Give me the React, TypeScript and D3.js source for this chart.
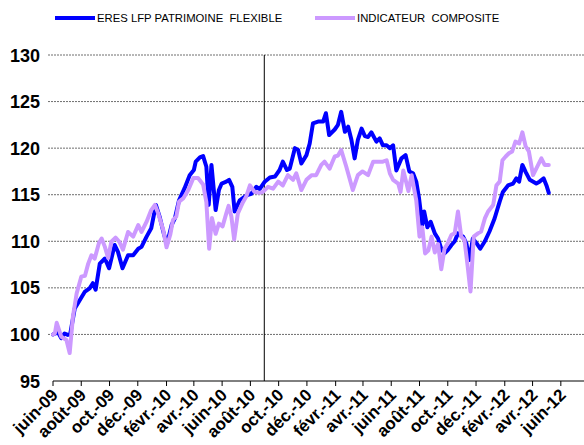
import React from "react";
import * as d3 from "d3";

const blueDates = [
  "2009-06-01","2009-06-05","2009-06-12","2009-06-19","2009-06-26","2009-07-03","2009-07-08","2009-07-18","2009-07-29","2009-08-09",
  "2009-08-19","2009-08-26","2009-09-01","2009-09-10","2009-09-21","2009-09-30","2009-10-12","2009-10-19","2009-10-29","2009-11-10",
  "2009-11-21","2009-12-02","2009-12-09","2009-12-20","2009-12-30","2010-01-09","2010-01-17","2010-01-26","2010-02-02","2010-02-12",
  "2010-02-19","2010-02-28","2010-03-12","2010-03-23","2010-04-01","2010-04-05","2010-04-14","2010-04-21","2010-04-28","2010-05-03",
  "2010-05-09","2010-05-14","2010-05-18","2010-05-25","2010-05-31","2010-06-10","2010-06-16","2010-06-23","2010-06-28","2010-07-09",
  "2010-07-20","2010-07-27","2010-08-03","2010-08-14","2010-08-21","2010-09-01","2010-09-12","2010-09-23","2010-10-03","2010-10-10",
  "2010-10-19","2010-10-25","2010-11-05","2010-11-12","2010-11-19","2010-11-30","2010-12-07","2010-12-14","2010-12-25","2011-01-05",
  "2011-01-11","2011-01-18","2011-01-30","2011-02-06","2011-02-13","2011-02-21","2011-02-28","2011-03-07","2011-03-14","2011-03-21",
  "2011-03-29","2011-04-05","2011-04-12","2011-04-19","2011-04-30","2011-05-07","2011-05-14","2011-05-22","2011-05-29","2011-06-05",
  "2011-06-12","2011-06-23","2011-07-02","2011-07-10","2011-07-18","2011-07-25","2011-07-31","2011-08-07","2011-08-11","2011-08-18",
  "2011-08-25","2011-09-03","2011-09-10","2011-09-17","2011-09-24","2011-10-01","2011-10-09","2011-10-16","2011-10-23","2011-11-03",
  "2011-11-10","2011-11-17","2011-11-24","2011-12-02","2011-12-10","2011-12-20","2011-12-30","2012-01-10","2012-01-21","2012-01-28",
  "2012-02-08","2012-02-19","2012-02-26","2012-03-03","2012-03-10","2012-03-17","2012-03-26","2012-04-09","2012-04-16","2012-04-25",
  "2012-05-01","2012-05-06"
];
const blueValues = [
  100.0,100.1,100.2,99.6,100.1,99.95,100.0,102.8,103.7,104.6,
  104.95,105.5,104.8,107.6,108.15,107.1,109.6,108.9,107.1,108.5,
  108.5,109.2,109.4,110.5,111.4,113.9,112.65,110.85,109.7,111.75,
  112.45,114.4,115.7,117.1,117.65,118.55,119.0,119.15,118.0,113.9,
  118.2,115.5,113.35,115.5,116.2,116.4,116.6,115.85,113.2,114.4,
  114.8,115.0,115.1,115.85,115.6,116.4,116.85,116.95,117.65,118.55,
  117.65,117.8,120.0,119.8,118.35,119.25,120.5,122.65,122.85,122.85,
  123.75,121.4,122.0,122.5,123.9,121.75,122.3,120.9,118.9,120.9,
  122.1,121.3,121.2,121.7,120.7,121.05,120.3,120.3,120.0,120.3,
  117.6,118.9,119.25,117.5,117.3,116.4,114.6,111.75,113.2,111.5,
  112.1,110.85,110.3,109.2,108.7,109.05,109.6,110.0,110.85,110.5,
  109.8,108.0,110.3,109.8,109.2,110.0,111.05,112.45,114.25,115.3,
  116.0,116.2,116.75,116.4,118.2,117.45,116.6,116.2,116.4,116.75,
  116.0,115.2
];

const purpleDates = [
  "2009-06-01","2009-06-05","2009-06-09","2009-06-19","2009-06-30","2009-07-07","2009-07-14","2009-07-22","2009-08-01","2009-08-09",
  "2009-08-16","2009-08-23","2009-08-30","2009-09-08","2009-09-14","2009-09-21","2009-09-28","2009-10-05","2009-10-14","2009-10-22",
  "2009-10-30","2009-11-10","2009-11-21","2009-12-02","2009-12-09","2009-12-20","2009-12-30","2010-01-07","2010-01-14","2010-01-25",
  "2010-02-01","2010-02-09","2010-02-15","2010-02-22","2010-02-28","2010-03-09","2010-03-20","2010-03-31","2010-04-10","2010-04-21",
  "2010-04-28","2010-05-04","2010-05-10","2010-05-18","2010-05-25","2010-06-02","2010-06-10","2010-06-15","2010-06-21","2010-06-27",
  "2010-07-05","2010-07-16","2010-07-23","2010-07-31","2010-08-10","2010-08-21","2010-08-28","2010-09-08","2010-09-19","2010-09-30",
  "2010-10-10","2010-10-21","2010-11-01","2010-11-08","2010-11-19","2010-11-30","2010-12-11","2010-12-21","2011-01-01","2011-01-08",
  "2011-01-19","2011-01-30","2011-02-06","2011-02-13","2011-02-24","2011-03-10","2011-03-21","2011-03-31","2011-04-12","2011-04-23",
  "2011-05-03","2011-05-14","2011-05-22","2011-05-29","2011-06-05","2011-06-16","2011-06-21","2011-06-27","2011-07-08","2011-07-15",
  "2011-07-25","2011-08-01","2011-08-07","2011-08-13","2011-08-20","2011-08-27","2011-09-03","2011-09-10","2011-09-17","2011-09-24",
  "2011-10-01","2011-10-09","2011-10-16","2011-10-23","2011-10-30","2011-11-06","2011-11-13","2011-11-19","2011-11-26","2011-12-05",
  "2011-12-12","2011-12-20","2011-12-27","2012-01-07","2012-01-14","2012-01-21","2012-01-27","2012-02-03","2012-02-10","2012-02-17",
  "2012-02-24","2012-03-03","2012-03-10","2012-03-17","2012-03-24","2012-04-02","2012-04-09","2012-04-20","2012-04-27","2012-05-06"
];
const purpleValues = [
  100.0,100.1,101.25,99.75,99.4,98.0,101.9,104.4,106.2,106.3,
  107.6,108.5,108.15,109.8,110.3,109.4,108.2,109.95,110.4,109.95,
  109.1,111.0,110.5,111.75,111.0,112.1,113.35,113.9,113.0,111.2,
  109.35,110.7,112.3,112.65,114.25,114.6,115.5,116.8,116.8,116.1,
  114.2,109.2,112.5,110.8,111.9,111.6,113.0,113.8,112.65,110.2,
  113.0,114.2,114.8,116.0,115.3,115.2,115.3,115.85,115.65,116.4,
  116.0,117.1,116.6,117.3,115.5,116.6,117.1,117.1,118.2,118.55,
  117.8,119.1,119.2,119.8,118.0,115.5,117.1,117.5,117.1,118.55,
  118.55,118.55,118.7,117.3,116.6,116.2,115.3,117.6,115.4,117.1,
  114.4,110.5,111.5,108.7,109.0,110.5,108.8,109.7,107.0,109.2,
  109.8,110.7,110.85,113.2,110.5,110.15,107.3,104.6,110.5,110.85,
  111.05,112.45,113.2,113.9,116.0,116.4,118.7,119.1,119.45,119.65,
  120.7,120.5,121.7,120.2,119.65,117.1,117.8,118.9,118.2,118.2
];

const seriesNames = ["ERES LFP PATRIMOINE  FLEXIBLE", "INDICATEUR  COMPOSITE"];
const seriesColors = ["#0000FF", "#CC99FF"];
const yTicks = [95, 100, 105, 110, 115, 120, 125, 130];
const tickLabels = [
  "juin-09","août-09","oct.-09","déc.-09","févr.-10","avr.-10","juin-10","août-10","oct.-10","déc.-10",
  "févr.-11","avr.-11","juin-11","août-11","oct.-11","déc.-11","févr.-12","avr.-12","juin-12"
];
const markerDate = "2010-08-31";

const W = 584;
const H = 445;
const left = 53;
const right = 584;
const top = 55;
const bottom = 381;

export default function App() {
  const parse = d3.utcParse("%Y-%m-%d");
  const x = d3
    .scaleUtc()
    .domain([parse("2009-06-01")!, parse("2012-07-21")!])
    .range([left, right]);
  const y = d3.scaleLinear().domain([95, 130]).range([bottom, top]);
  const tickDates = d3.utcMonth.range(parse("2009-06-01")!, parse("2012-06-02")!, 2);

  const line = d3
    .line<[Date, number]>()
    .x((d) => x(d[0]))
    .y((d) => y(d[1]))
    .curve(d3.curveLinear);

  const blue: [Date, number][] = blueDates.map((d, i) => [parse(d)!, blueValues[i]]);
  const purple: [Date, number][] = purpleDates.map((d, i) => [parse(d)!, purpleValues[i]]);
  const mx = x(parse(markerDate)!);

  return (
    <svg width={W} height={H} style={{ position: "absolute", left: 0, top: 0 }}
      fontFamily="'Liberation Sans', Arial, sans-serif">
      <rect x={0} y={0} width={W} height={H} fill="#fff" />
      {/* grid */}
      {yTicks.filter((t) => t > 95).map((t) => (
        <line key={t} x1={48} x2={right} y1={y(t)} y2={y(t)}
          stroke="#6e6e6e" strokeWidth={1} strokeDasharray="2 1" />
      ))}
      {/* y labels */}
      {yTicks.map((t) => (
        <text key={t} x={40} y={y(t) + 6.5} textAnchor="end" fontWeight="bold" fontSize={18}
          fill="#000">{t}</text>
      ))}
      {/* marker vertical */}
      <line x1={mx} x2={mx} y1={top} y2={bottom} stroke="#000" strokeWidth={1} />
      {/* x axis */}
      <line x1={left} x2={right} y1={bottom} y2={bottom} stroke="#000" strokeWidth={1} />
      {tickDates.map((d, i) => (
        <g key={i}>
          <line x1={x(d)} x2={x(d)} y1={bottom} y2={bottom + 5} stroke="#000" strokeWidth={1} />
          <text transform={`translate(${x(d) + 6},${bottom + 15}) rotate(-45)`} textAnchor="end"
            fontWeight="bold" fontSize={17} fill="#000">{tickLabels[i]}</text>
        </g>
      ))}
      {/* series */}
      <path d={line(blue) || ""} fill="none" stroke={seriesColors[0]} strokeWidth={4}
        strokeLinejoin="round" strokeLinecap="round" />
      <path d={line(purple) || ""} fill="none" stroke={seriesColors[1]} strokeWidth={4}
        strokeLinejoin="round" strokeLinecap="round" />
      {/* legend */}
      <line x1={55} x2={95} y1={18} y2={18} stroke={seriesColors[0]} strokeWidth={4} />
      <text x={97} y={22} fontSize={11.3} fill="#000" style={{ whiteSpace: "pre" }}>{seriesNames[0]}</text>
      <line x1={315} x2={355} y1={18} y2={18} stroke={seriesColors[1]} strokeWidth={4} />
      <text x={357} y={22} fontSize={11.3} fill="#000" style={{ whiteSpace: "pre" }}>{seriesNames[1]}</text>
    </svg>
  );
}
